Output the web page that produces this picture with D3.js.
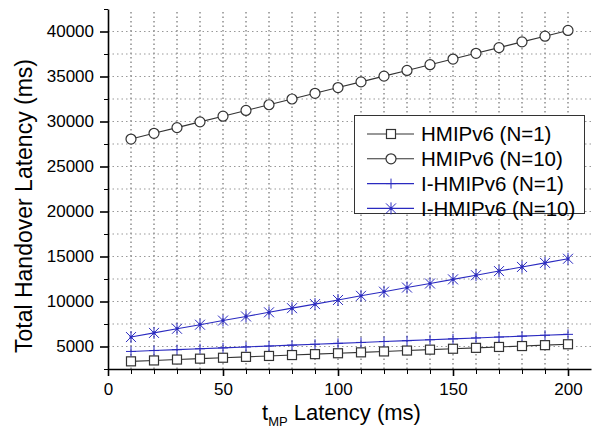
<!DOCTYPE html>
<html>
<head>
<meta charset="utf-8">
<script src="https://cdn.jsdelivr.net/npm/d3@7"></script>
<style>
  body { margin: 0; background: #fff; }
  svg { font-family: 'Liberation Sans', Arial, sans-serif; }
</style>
</head>
<body>
<div id="chart"></div>
<script>
(function(d3) {
  'use strict';

  var latency = [10, 20, 30, 40, 50, 60, 70, 80, 90, 100, 110, 120, 130, 140, 150, 160, 170, 180, 190, 200];
  var hmipN1 = [3350, 3450, 3550, 3650, 3750, 3850, 3950, 4050, 4150, 4250, 4350, 4450, 4550, 4650, 4750, 4850, 4950, 5050, 5150, 5250];
  var hmipN10 = [28050, 28690, 29320, 29960, 30590, 31230, 31860, 32500, 33130, 33770, 34400, 35040, 35670, 36310, 36940, 37580, 38210, 38850, 39480, 40120];
  var ihmipN1 = [4450, 4550, 4650, 4750, 4850, 4950, 5050, 5150, 5250, 5350, 5450, 5550, 5650, 5750, 5850, 5950, 6050, 6150, 6250, 6350];
  var ihmipN10 = [6050, 6510, 6970, 7420, 7880, 8340, 8800, 9260, 9710, 10170, 10630, 11090, 11550, 12000, 12460, 12920, 13380, 13840, 14290, 14750];
  var seriesNames = ['HMIPv6 (N=1)', 'HMIPv6 (N=10)', 'I-HMIPv6 (N=1)', 'I-HMIPv6 (N=10)'];
  var xTicks = [0, 50, 100, 150, 200];
  var yTicks = [5000, 10000, 15000, 20000, 25000, 30000, 35000, 40000];

  var width = 596;
  var height = 441;
  var blue = '#2a2ac0';
  var dark = '#333';

  var series = [
    { name: seriesNames[0], values: hmipN1, color: dark, marker: 'square' },
    { name: seriesNames[1], values: hmipN10, color: dark, marker: 'circle' },
    { name: seriesNames[2], values: ihmipN1, color: blue, marker: 'plus' },
    { name: seriesNames[3], values: ihmipN10, color: blue, marker: 'star' }
  ];

  var x = d3.scaleLinear().domain([0, 210]).range([108, 591]);
  var y = d3.scaleLinear().domain([2500, 42500]).range([369, 9]);

  var svg = d3.select('#chart')
    .append('svg')
    .attr('width', width)
    .attr('height', height);

  // grid
  var grid = svg.append('g');
  grid.selectAll('.vg')
    .data(d3.range(10, 201, 10))
    .enter().append('line')
    .attr('x1', function(d) { return x(d); })
    .attr('x2', function(d) { return x(d); })
    .attr('y1', y(2500))
    .attr('y2', y(42500))
    .attr('stroke', '#555')
    .attr('stroke-width', 1)
    .attr('stroke-dasharray', '1.5,3');
  grid.selectAll('.hg')
    .data(d3.range(5000, 40001, 2500))
    .enter().append('line')
    .attr('x1', x(0))
    .attr('x2', x(210))
    .attr('y1', function(d) { return y(d); })
    .attr('y2', function(d) { return y(d); })
    .attr('stroke', '#999')
    .attr('stroke-width', 1)
    .attr('stroke-dasharray', '1.5,3');

  // minor ticks
  svg.append('g')
    .attr('transform', 'translate(0,' + y(2500) + ')')
    .call(d3.axisBottom(x).tickValues(d3.range(10, 201, 10)).tickSize(5).tickFormat(''))
    .call(function(g) { g.select('.domain').remove(); });
  svg.append('g')
    .attr('transform', 'translate(' + x(0) + ',0)')
    .call(d3.axisLeft(y).tickValues(d3.range(2500, 42501, 5000)).tickSize(4).tickFormat(''))
    .call(function(g) { g.select('.domain').remove(); });

  // axes
  var xAxis = svg.append('g')
    .attr('transform', 'translate(0,' + y(2500) + ')')
    .call(d3.axisBottom(x).tickValues(xTicks).tickSize(7).tickSizeOuter(0).tickPadding(7).tickFormat(d3.format('d')));
  var yAxis = svg.append('g')
    .attr('transform', 'translate(' + x(0) + ',0)')
    .call(d3.axisLeft(y).tickValues(yTicks).tickSize(8).tickSizeOuter(0).tickPadding(6).tickFormat(d3.format('d')));
  [xAxis, yAxis].forEach(function(a) {
    a.selectAll('path, line').attr('stroke', '#000').attr('stroke-width', 1.6);
    a.selectAll('text').attr('font-size', 17).attr('fill', '#000')
      .attr('font-family', "'Liberation Sans', Arial, sans-serif");
  });

  // axis titles
  var xt = svg.append('text')
    .attr('x', 262)
    .attr('y', 420)
    .attr('font-size', 22)
    .attr('fill', '#000');
  xt.append('tspan').text('t');
  xt.append('tspan').attr('font-size', 13).attr('dy', 6).text('MP');
  xt.append('tspan').attr('dy', -6).text(' Latency (ms)');

  svg.append('text')
    .attr('transform', 'translate(32,206) rotate(-90)')
    .attr('text-anchor', 'middle')
    .attr('font-size', 23)
    .attr('fill', '#000')
    .text('Total Handover Latency (ms)');

  function drawMarker(g, type, color) {
    if (type === 'square') {
      g.append('rect').attr('x', -4.5).attr('y', -4.5).attr('width', 9).attr('height', 9)
        .attr('fill', '#fff').attr('stroke', color).attr('stroke-width', 1.2);
    } else if (type === 'circle') {
      g.append('circle').attr('r', 5)
        .attr('fill', '#fff').attr('stroke', color).attr('stroke-width', 1.2);
    } else if (type === 'plus') {
      g.append('path').attr('d', 'M-5,0H5M0,-5V5')
        .attr('stroke', color).attr('stroke-width', 1);
    } else {
      g.append('path').attr('d', 'M0,-6V6M-5,-5L5,5M-5,5L5,-5')
        .attr('stroke', color).attr('stroke-width', 1);
      g.append('circle').attr('r', 1.6).attr('fill', color);
    }
  }

  var line = d3.line()
    .x(function(d, i) { return x(latency[i]); })
    .y(function(d) { return y(d); });

  series.forEach(function(s) {
    svg.append('path')
      .attr('d', line(s.values))
      .attr('fill', 'none')
      .attr('stroke', s.color)
      .attr('stroke-width', 1.1);
    svg.append('g').selectAll('g')
      .data(s.values)
      .enter().append('g')
      .attr('transform', function(d, i) { return 'translate(' + x(latency[i]) + ',' + y(d) + ')'; })
      .each(function() { drawMarker(d3.select(this), s.marker, s.color); });
  });

  // legend
  var legend = svg.append('g');
  legend.append('rect')
    .attr('x', 354.5).attr('y', 115.5)
    .attr('width', 230).attr('height', 98)
    .attr('fill', '#fff').attr('stroke', '#333').attr('stroke-width', 1);
  var item = legend.selectAll('.legend')
    .data(series)
    .enter().append('g')
    .attr('class', 'legend')
    .attr('transform', function(d, i) { return 'translate(0,' + (134 + i * 24.8) + ')'; });
  item.append('line')
    .attr('x1', 367).attr('x2', 414)
    .attr('stroke', function(d) { return d.color; })
    .attr('stroke-width', 1.1);
  item.append('g')
    .attr('transform', 'translate(391,0)')
    .each(function(d) { drawMarker(d3.select(this), d.marker, d.color); });
  item.append('text')
    .attr('x', 421)
    .attr('dy', '0.36em')
    .attr('font-size', 20.5)
    .attr('fill', '#000')
    .text(function(d) { return d.name; });

})(window.d3);
</script>
</body>
</html>
